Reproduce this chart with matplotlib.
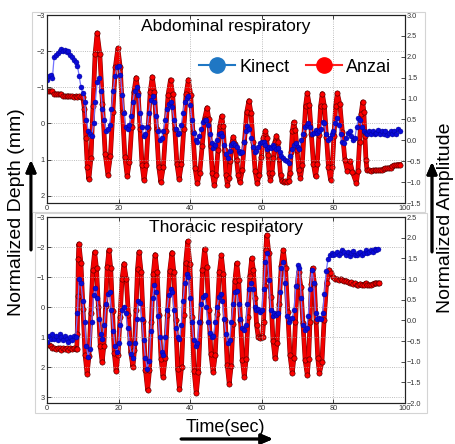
import numpy as np
import matplotlib
matplotlib.use("Agg")
import matplotlib.pyplot as plt
import matplotlib.patheffects as pe
from matplotlib.lines import Line2D
from matplotlib.patches import Rectangle

plt.rcParams['font.family'] = ['Liberation Sans', 'DejaVu Sans']

# ---- data ----
# Kinect depth (left axis, inverted), sampled every 0.5 s
kinect_abd = [
    -1.2, -1.3, -1.35, -1.25, -1.85, -1.9, -1.95, -2.0, -2.05, -2.0,
    -2.03, -1.98, -2.0, -1.9, -1.85, -1.75, -1.7, -1.6, -1.3, -1.0,
    -0.85, -0.6, -0.1, 0.2, 0.3, 0.35, 0.0, -0.6, -1.15, -1.25,
    -0.9, -0.4, -0.1, 0.2, 0.15, 0.05, -0.4, -0.9, -1.3, -1.55,
    -1.6, -1.35, -0.8, -0.3, 0.1, 0.15, 0.05, -0.2, -0.6, -0.9,
    -1.0, -0.8, -0.3, 0.1, 0.35, 0.3, 0.1, -0.3, -0.65, -0.75,
    -0.6, -0.2, 0.2, 0.45, 0.4, 0.2, -0.1, -0.4, -0.55, -0.6,
    -0.45, -0.1, 0.15, 0.3, 0.25, 0.05, -0.3, -0.6, -0.7, -0.75,
    -0.5, -0.1, 0.25, 0.45, 0.5, 0.35, 0.15, -0.05, -0.1, -0.1,
    0.05, 0.3, 0.55, 0.68, 0.6, 0.45, 0.3, 0.25, 0.35, 0.6,
    0.85, 0.95, 0.75, 0.6, 0.55, 0.6, 0.65, 0.75, 0.82, 0.78,
    0.5, 0.2, 0.08, 0.15, 0.4, 0.65, 0.78, 0.75, 0.65, 0.55,
    0.5, 0.5, 0.6, 0.7, 0.65, 0.68, 0.6, 0.65, 0.7, 0.68,
    0.8, 0.9, 0.95, 1.0, 1.05, 1.1, 0.9, 0.7, 0.6, 0.55,
    0.65, 0.7, 0.45, 0.3, 0.1, 0.05, 0.0, 0.1, 0.3, 0.25,
    0.18, 0.25, 0.2, 0.15, -0.05, 0.0, 0.3, 0.45, 0.4, 0.3,
    0.22, 0.0, -0.15, 0.05, 0.3, 0.5, 0.55, 0.4, 0.25, 0.22,
    0.35, 0.45, 0.4, 0.1, -0.15, -0.1, 0.1, 0.2, 0.25, 0.3,
    0.22, 0.28, 0.2, 0.3, 0.25, 0.18, 0.3, 0.22, 0.28, 0.2,
    0.32, 0.25, 0.2, 0.3, 0.22, 0.28, 0.15, 0.2,
]
kinect_tho = [
    1.15, 0.95, 1.05, 0.9, 1.05, 0.95, 1.1, 0.9, 1.0, 1.1,
    0.95, 1.05, 1.15, 1.0, 1.1, 0.95, 1.0, 0.2, -0.95, -0.8,
    -0.2, 0.5, 1.3, 1.65, 1.4, 0.5, -0.4, -0.65, -0.3, 0.4,
    0.9, 1.05, 0.6, -0.1, -0.45, -0.5, 0.1, 0.8, 1.3, 1.5,
    1.2, 0.6, 0.1, 0.0, 0.2, 0.7, 1.2, 1.55, 1.7, 1.2,
    0.4, -0.2, -0.15, 0.4, 1.1, 1.7, 2.05, 1.8, 0.8, -0.3,
    -0.75, -0.5, 0.3, 1.0, 1.5, 1.6, 1.0, 0.1, -0.4, -0.6,
    -0.5, 0.1, 0.7, 1.0, 1.05, 0.6, -0.2, -0.8, -1.1, -1.0,
    -0.3, 0.5, 1.1, 1.3, 1.2, 0.5, -0.1, -0.35, -0.4, 0.0,
    0.5, 0.85, 1.0, 0.95, 0.5, 0.0, -0.35, -0.45, -0.2, 0.4,
    0.9, 1.2, 1.1, 0.5, -0.1, -0.5, -0.55, -0.1, 0.4, 0.7,
    0.78, 0.6, -0.1, -0.6, -0.8, -0.6, 0.0, 0.1, 0.05, 0.15,
    0.1, -0.6, -1.5, -1.8, -0.9, 0.1, 0.3, 0.2, 0.25, 0.2,
    -0.5, -1.3, -1.5, -0.8, 0.3, 0.5, 0.4, 0.35, 0.1, -0.7,
    -1.4, -1.3, -0.3, 0.6, 0.75, 0.7, 0.3, -0.6, -1.25, -0.8,
    0.2, 0.4, 0.35, 0.4, 0.2, -0.45, -1.2, -1.6, -1.75, -1.8,
    -1.72, -1.78, -1.85, -1.75, -1.8, -1.9, -1.85, -1.75, -1.82, -1.7,
    -1.8, -1.88, -1.75, -1.72, -1.8, -1.85, -1.75, -1.8, -1.9, -1.8,
    -1.85, -1.9, -1.85, -1.95, -1.9, -1.95,
]
kinect_step = 0.5

# Anzai belt amplitude (right axis), (time s, value)
anzai_abd = [
    (0.0, 1.18), (0.5, 1.17), (1.0, 1.18), (1.5, 1.17), (2.0, 1.12), (2.5, 1.1), (3.0, 1.11),
    (3.5, 1.1), (4.0, 1.1), (4.5, 1.06), (5.0, 1.05), (5.5, 1.05), (6.0, 1.06), (6.5, 1.05),
    (7.0, 1.05), (7.5, 1.04), (8.0, 1.05), (8.5, 1.04), (9.0, 1.05), (9.5, 1.04),
    (10.0, 1.04), (10.43, 0.76), (10.85, 0.06), (11.28, -0.64),
    (11.7, -0.93), (12.28, -0.42), (12.85, 0.82), (13.43, 2.06),
    (14.0, 2.57), (14.75, 2.07), (15.5, 0.88), (16.25, -0.32),
    (17.0, -0.82), (17.7, -0.38), (18.4, 0.69), (19.1, 1.76),
    (19.8, 2.2), (20.45, 1.75), (21.1, 0.68), (21.75, -0.4),
    (22.4, -0.85), (23.03, -0.51), (23.65, 0.33), (24.28, 1.16),
    (24.9, 1.5), (25.45, 1.14), (26.0, 0.28), (26.55, -0.59),
    (27.1, -0.95), (27.68, -0.59), (28.25, 0.29), (28.83, 1.16),
    (29.4, 1.52), (30.0, 1.15), (30.6, 0.26), (31.2, -0.63),
    (31.8, -1.0), (32.48, -0.64), (33.15, 0.23), (33.83, 1.09),
    (34.5, 1.45), (35.1, 1.1), (35.7, 0.27), (36.3, -0.57),
    (36.9, -0.92), (37.55, -0.57), (38.2, 0.27), (38.85, 1.1),
    (39.5, 1.45), (40.13, 1.09), (40.75, 0.21), (41.38, -0.67),
    (42.0, -1.03), (42.68, -0.77), (43.35, -0.13), (44.03, 0.52),
    (44.7, 0.78), (45.2, 0.51), (45.7, -0.14), (46.2, -0.79),
    (46.7, -1.06), (47.23, -0.82), (47.75, -0.24), (48.28, 0.34),
    (48.8, 0.58), (49.2, 0.34), (49.6, -0.24), (50.0, -0.82),
    (50.4, -1.06), (50.8, -0.89), (51.2, -0.49), (51.6, -0.09),
    (52.0, 0.08), (52.48, -0.08), (52.95, -0.46), (53.43, -0.84),
    (53.9, -1.0), (54.53, -0.72), (55.15, -0.03), (55.78, 0.67),
    (56.4, 0.95), (56.98, 0.66), (57.55, -0.04), (58.13, -0.73),
    (58.7, -1.02), (59.28, -0.84), (59.85, -0.4), (60.43, 0.05),
    (61.0, 0.23), (61.35, 0.06), (61.7, -0.36), (62.05, -0.77),
    (62.4, -0.94), (62.83, -0.79), (63.25, -0.42), (63.68, -0.04),
    (64.1, 0.11), (64.48, -0.05), (64.85, -0.44), (65.23, -0.82),
    (65.6, -0.98), (66.1, -0.99), (66.6, -0.98), (67.1, -0.99),
    (67.5, -0.98), (67.85, -0.77), (68.2, -0.28), (68.55, 0.22),
    (68.9, 0.43), (69.38, 0.24), (69.85, -0.24), (70.33, -0.71),
    (70.8, -0.9), (71.28, -0.6), (71.75, 0.12), (72.23, 0.83),
    (72.7, 1.13), (73.28, 0.84), (73.85, 0.14), (74.43, -0.57),
    (75.0, -0.86), (75.48, -0.57), (75.95, 0.13), (76.43, 0.83),
    (76.9, 1.12), (77.48, 0.82), (78.05, 0.09), (78.63, -0.64),
    (79.2, -0.94), (79.68, -0.64), (80.15, 0.1), (80.63, 0.83),
    (81.1, 1.13), (81.8, 0.86), (82.5, 0.2), (83.2, -0.46),
    (83.9, -0.73), (84.6, -0.5), (85.3, -0.75),
    (86.4, -1.02), (86.85, -0.74), (87.3, -0.05), (87.75, 0.64),
    (88.2, 0.92), (88.5, 0.68), (88.8, 0.1), (89.1, -0.48),
    (89.4, -0.72), (90.0, -0.72), (90.5, -0.73), (91.0, -0.72), (91.5, -0.72), (92.0, -0.72),
    (92.5, -0.72), (93.0, -0.71), (93.5, -0.72), (94.0, -0.68), (94.5, -0.67), (95.0, -0.67),
    (95.5, -0.66), (96.0, -0.66), (96.5, -0.62), (97.0, -0.6), (97.5, -0.6), (98.0, -0.58),
    (98.5, -0.58),
]
anzai_tho = [
    (0.0, -0.6), (0.5, -0.6), (1.0, -0.62), (1.5, -0.66), (2.0, -0.68), (2.5, -0.7), (3.0, -0.68),
    (3.5, -0.68), (4.0, -0.72), (4.5, -0.68), (5.0, -0.7), (5.5, -0.68), (6.0, -0.72), (6.5, -0.68),
    (7.0, -0.7), (7.5, -0.68), (8.0, -0.7),
    (8.3, -0.7), (8.45, -0.33), (8.6, 0.58), (8.75, 1.48),
    (8.9, 1.85), (9.48, 1.39), (10.05, 0.28), (10.63, -0.83),
    (11.2, -1.29), (11.73, -0.86), (12.25, 0.18), (12.78, 1.22),
    (13.3, 1.65), (13.83, 1.26), (14.35, 0.32), (14.88, -0.62),
    (15.4, -1.01), (15.88, -0.62), (16.35, 0.34), (16.83, 1.3),
    (17.3, 1.69), (17.8, 1.26), (18.3, 0.23), (18.8, -0.8),
    (19.3, -1.23), (19.85, -0.85), (20.4, 0.07), (20.95, 0.99),
    (21.5, 1.37), (22.13, 1.01), (22.75, 0.12), (23.38, -0.77),
    (24.0, -1.13), (24.43, -0.72), (24.85, 0.26), (25.28, 1.24),
    (25.7, 1.65), (26.3, 1.16), (26.9, -0.02), (27.5, -1.2),
    (28.1, -1.69), (28.63, -1.21), (29.15, -0.05), (29.68, 1.11),
    (30.2, 1.59), (30.75, 1.16), (31.3, 0.12), (31.85, -0.93),
    (32.4, -1.36), (33.03, -0.92), (33.65, 0.14), (34.28, 1.2),
    (34.9, 1.64), (35.43, 1.16), (35.95, 0.0), (36.48, -1.17),
    (37.0, -1.65), (37.58, -1.13), (38.15, 0.13), (38.73, 1.39),
    (39.3, 1.91), (39.9, 1.37), (40.5, 0.07), (41.1, -1.23),
    (41.7, -1.77), (42.28, -1.26), (42.85, -0.03), (43.43, 1.21),
    (44.0, 1.72), (44.6, 1.29), (45.2, 0.24), (45.8, -0.82),
    (46.4, -1.25), (46.98, -0.84), (47.55, 0.16), (48.13, 1.16),
    (48.7, 1.57), (49.25, 1.12), (49.8, 0.02), (50.35, -1.08),
    (50.9, -1.53), (51.43, -1.11), (51.95, -0.08), (52.48, 0.96),
    (53.0, 1.38), (53.53, 0.98), (54.05, 0.01), (54.58, -0.96),
    (55.1, -1.36), (55.63, -0.94), (56.15, 0.07), (56.68, 1.08),
    (57.2, 1.5), (57.65, 1.22), (58.1, 0.55), (58.55, -0.12),
    (59.0, -0.4), (59.5, -0.42), (60.0, -0.4),
    (60.2, -0.4), (60.5, -0.04), (60.8, 0.83), (61.1, 1.7),
    (61.4, 2.06), (61.98, 1.62), (62.55, 0.57), (63.13, -0.49),
    (63.7, -0.92), (64.28, -0.54), (64.85, 0.39), (65.43, 1.32),
    (66.0, 1.7), (66.63, 1.26), (67.25, 0.21), (67.88, -0.85),
    (68.5, -1.28), (68.95, -0.92), (69.4, -0.05), (69.85, 0.82),
    (70.3, 1.18), (70.9, 0.81), (71.5, -0.07), (72.1, -0.96),
    (72.7, -1.32), (73.08, -0.94), (73.45, -0.03), (73.83, 0.88),
    (74.2, 1.26), (74.68, 0.89), (75.15, -0.01), (75.63, -0.91),
    (76.1, -1.28), (76.8, -1.0), (77.4, 0.0), (78.1, 0.9),
    (78.8, 1.22), (79.3, 1.15), (79.8, 1.05), (80.5, 1.0), (81.0, 1.0), (81.5, 0.98), (82.0, 1.0),
    (82.5, 0.97), (83.0, 0.95), (83.5, 0.96), (84.0, 0.93), (84.5, 0.9), (85.0, 0.92), (85.5, 0.88),
    (86.0, 0.9), (86.5, 0.86), (87.0, 0.86), (87.5, 0.88), (88.0, 0.86), (88.5, 0.86), (89.0, 0.9),
    (89.5, 0.86), (90.0, 0.86), (90.5, 0.86), (91.0, 0.88), (91.5, 0.9), (92.0, 0.9), (92.5, 0.9),
    (92.8, 0.9),
]

titles = ["Abdominal respiratory", "Thoracic respiratory"]
xticks = [0, 20, 40, 60, 80, 100]
left_ticks = [[-3, -2, -1, 0, 1, 2], [-3, -2, -1, 0, 1, 2, 3]]
right_ticks = [[-1.5, -1.0, -0.5, 0.0, 0.5, 1.0, 1.5, 2.0, 2.5, 3.0],
               [-2.0, -1.5, -1.0, -0.5, 0.0, 0.5, 1.0, 1.5, 2.0, 2.5]]
left_lims = [(2.2, -3), (3.2, -3)]
right_lims = [(-1.5, 3.0), (-2.0, 2.5)]

W, H = 455, 444
fig = plt.figure(figsize=(W / 100, H / 100), dpi=100)


def box(l, t, r, b):
    return [l / W, 1 - b / H, (r - l) / W, (b - t) / H]


# light frames of the two sub-images
for (l, t, r, b) in [(32, 12, 425, 212), (35, 213, 427, 413)]:
    fig.add_artist(Rectangle((l / W, 1 - b / H), (r - l) / W, (b - t) / H,
                             transform=fig.transFigure, fill=False,
                             ec='#d4d4d4', lw=0.8))

panels = [box(47, 15, 405, 203), box(47, 217, 405, 403)]
kinect = [kinect_abd, kinect_tho]
anzai = [anzai_abd, anzai_tho]

for i, rect in enumerate(panels):
    ax = fig.add_axes(rect)
    axr = ax.twinx()
    ax.set_zorder(axr.get_zorder() + 1)
    ax.patch.set_visible(False)

    # Anzai (red) on the right axis
    t, v = np.array(anzai[i]).T
    axr.plot(t, v, '-', color='#f20000', lw=2.6,
             path_effects=[pe.Stroke(linewidth=3.4, foreground='#8a0000'), pe.Normal()])
    axr.plot(t, v, 'o', ms=3.8, mfc='#ff0000', mec='#3a0000', mew=0.4)

    # Kinect (blue) on the left axis
    kv = kinect[i]
    kt = kinect_step * np.arange(len(kv))
    ax.plot(kt, kv, '-', color='#7272ff', lw=0.9, marker='o', ms=3.6,
            mfc='#0b0bd8', mec='#00008f', mew=0.3)

    ax.set_xlim(0, 100)
    ax.set_xticks(xticks)
    ax.set_ylim(*left_lims[i])
    ax.set_yticks(left_ticks[i])
    axr.set_ylim(*right_lims[i])
    axr.set_yticks(right_ticks[i])
    axr.yaxis.set_major_formatter(plt.FuncFormatter(lambda x, p: ('%.1f' % x).replace('-', '\u2212')))

    ax.grid(True, ls=':', color='#a8a8a8', lw=0.6)
    for a in (ax, axr):
        a.tick_params(direction='in', length=3, width=0.5, labelsize=5.3,
                      labelcolor='#333333', pad=1.5, top=True)
        for s in a.spines.values():
            s.set_color('#222222')
            s.set_linewidth(0.8)

    ax.text(0.5, 0.937 if i == 0 else 0.946, titles[i], transform=ax.transAxes,
            ha='center', va='center', fontsize=12.5, zorder=10)

    if i == 0:
        handles = [Line2D([], [], color='#1f77c4', lw=1.5, marker='o', ms=11),
                   Line2D([], [], color='#ff2020', lw=1.5, marker='o', ms=11,
                          mfc='#ff0000', mec='#ff0000')]
        ax.legend(handles, ['Kinect', 'Anzai'], loc='center', ncol=2,
                  bbox_to_anchor=(0.693, 0.723), frameon=False, fontsize=13,
                  handlelength=2.0, handletextpad=0.25, columnspacing=0.9,
                  borderpad=0)

# axis labels and arrows
fig.text(17 / W, 1 - 212 / H, 'Normalized Depth (mm)', rotation=90,
         ha='center', va='center', fontsize=14)
fig.text(446 / W, 1 - 218 / H, 'Normalized Amplitude', rotation=90,
         ha='center', va='center', fontsize=14)
fig.text(225 / W, 1 - 427 / H, 'Time(sec)', ha='center', va='center', fontsize=13)

arrow = dict(arrowstyle='-|>,head_length=0.7,head_width=0.3', lw=2, color='k',
             shrinkA=0, shrinkB=0)
fig.add_artist(plt.annotate('', xy=(31 / W, 1 - 160 / H), xytext=(31 / W, 1 - 250 / H),
                            xycoords='figure fraction', textcoords='figure fraction',
                            arrowprops=arrow))
fig.add_artist(plt.annotate('', xy=(432 / W, 1 - 162 / H), xytext=(432 / W, 1 - 252 / H),
                            xycoords='figure fraction', textcoords='figure fraction',
                            arrowprops=arrow))
fig.add_artist(plt.annotate('', xy=(273 / W, 1 - 439 / H), xytext=(181 / W, 1 - 439 / H),
                            xycoords='figure fraction', textcoords='figure fraction',
                            arrowprops=arrow))

fig.savefig('out.png', dpi=100)
